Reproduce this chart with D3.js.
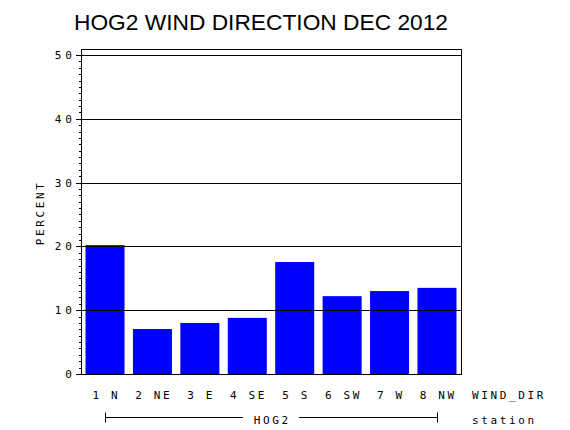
<!DOCTYPE html>
<html>
<head>
<meta charset="utf-8">
<script src="https://cdn.jsdelivr.net/npm/d3@7"></script>
<style>
  html, body { margin: 0; padding: 0; background: #fff; }
  svg { display: block; }
  .lbl { font-family: "DejaVu Sans Mono", monospace; font-size: 11px; fill: #000; }
</style>
</head>
<body>
<svg id="chart" width="570" height="430"></svg>
<script>
const categories = ["1 N", "2 NE", "3 E", "4 SE", "5 S", "6 SW", "7 W", "8 NW"];
const values = [20.2, 7.05, 8.0, 8.8, 17.55, 12.2, 13.0, 13.5];
const yTicks = [0, 10, 20, 30, 40, 50];
const titleText = "HOG2 WIND DIRECTION DEC 2012";
const yLabel = "PERCENT";
const xLabel = "WIND_DIR";
const groupLabel = "HOG2";
const groupVar = "station";

const svg = d3.select("#chart");
const LS = 2.63; // letter spacing

const x = d3.scaleBand().domain(categories).range([81, 461]).paddingInner(0.177).paddingOuter(0.095);
const y = d3.scaleLinear().domain([0, 51]).range([374, 48.6]);

// Title
svg.append("text")
  .attr("x", 74).attr("y", 30)
  .attr("textLength", 374).attr("lengthAdjust", "spacingAndGlyphs")
  .style("font-family", "'Liberation Sans', Arial, sans-serif")
  .style("font-size", "22px")
  .text(titleText);

// Bars
svg.append("g").selectAll("rect").data(categories).join("rect")
  .attr("x", d => x(d))
  .attr("width", x.bandwidth())
  .attr("y", (d, i) => y(values[i]))
  .attr("height", (d, i) => y(0) - y(values[i]))
  .attr("fill", "#0000FF");

// Grid lines
svg.append("g").selectAll("line").data(yTicks.filter(t => t > 0)).join("line")
  .attr("x1", 81).attr("x2", 461)
  .attr("y1", d => Math.round(y(d)) + 0.5).attr("y2", d => Math.round(y(d)) + 0.5)
  .attr("stroke", "#000").attr("stroke-width", 1);

// Frame
svg.append("rect")
  .attr("x", 81.5).attr("y", Math.round(y(51)) + 0.5)
  .attr("width", 380).attr("height", Math.round(y(0)) - Math.round(y(51)))
  .attr("fill", "none").attr("stroke", "#000").attr("stroke-width", 1);

// Y axis ticks
const minor = d3.range(0, 51, 1);
svg.append("g").selectAll("line").data(minor).join("line")
  .attr("x1", d => (d % 10 === 0) ? 76 : 79).attr("x2", 81.5)
  .attr("y1", d => Math.round(y(d)) + 0.5).attr("y2", d => Math.round(y(d)) + 0.5)
  .attr("stroke", "#000").attr("stroke-width", 1);

svg.append("g").selectAll("text").data(yTicks).join("text")
  .attr("class", "lbl")
  .attr("x", 71.8 + LS)
  .attr("y", d => y(d) + 4)
  .attr("text-anchor", "end")
  .style("letter-spacing", (LS + 1.2) + "px")
  .attr("dx", 1.2)
  .text(d => d);

// Y label
svg.append("text")
  .attr("class", "lbl")
  .attr("transform", "translate(43.5," + (211.5 + LS / 2) + ") rotate(-90)")
  .attr("text-anchor", "middle")
  .style("letter-spacing", LS + "px")
  .text(yLabel);

// X category labels
svg.append("g").selectAll("text").data(categories).join("text")
  .attr("class", "lbl")
  .attr("x", d => x(d) + x.bandwidth() / 2 + LS / 2)
  .attr("y", 399)
  .attr("text-anchor", "middle")
  .style("letter-spacing", LS + "px")
  .text(d => d);

svg.append("text").attr("class", "lbl")
  .attr("x", 472).attr("y", 399)
  .style("letter-spacing", LS + "px")
  .text(xLabel);

// Group line
const gx1 = x(categories[0]) + x.bandwidth() / 2;
const gx2 = x(categories[categories.length - 1]) + x.bandwidth() / 2;
const gmid = (gx1 + gx2) / 2;
const g = svg.append("g").attr("stroke", "#000").attr("stroke-width", 1);
g.append("line").attr("x1", gx1).attr("x2", gmid - 28).attr("y1", 417.5).attr("y2", 417.5);
g.append("line").attr("x1", gmid + 28).attr("x2", gx2).attr("y1", 417.5).attr("y2", 417.5);
g.append("line").attr("x1", Math.round(gx1) + 0.5).attr("x2", Math.round(gx1) + 0.5).attr("y1", 412.5).attr("y2", 422.5);
g.append("line").attr("x1", Math.round(gx2) + 0.5).attr("x2", Math.round(gx2) + 0.5).attr("y1", 412.5).attr("y2", 422.5);

svg.append("text").attr("class", "lbl")
  .attr("x", gmid + LS / 2).attr("y", 424)
  .attr("text-anchor", "middle")
  .style("letter-spacing", LS + "px")
  .text(groupLabel);

svg.append("text").attr("class", "lbl")
  .attr("x", 472).attr("y", 424)
  .style("letter-spacing", LS + "px")
  .text(groupVar);
</script>
</body>
</html>
